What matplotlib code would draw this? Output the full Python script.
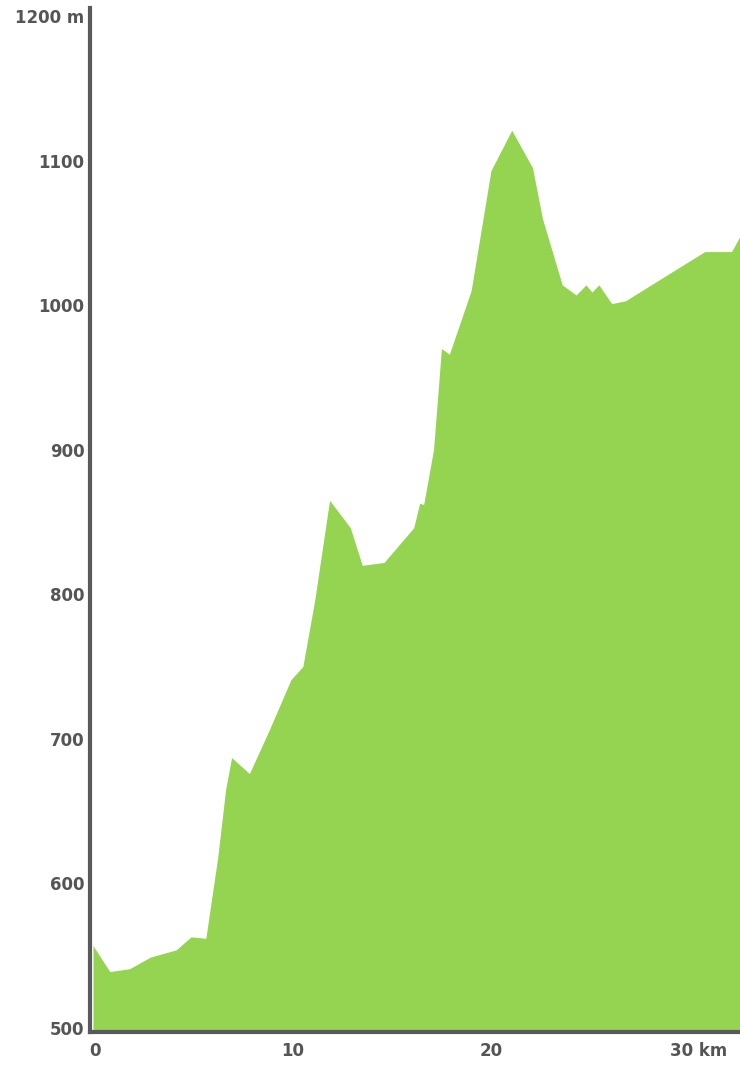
import matplotlib.pyplot as plt
import matplotlib.transforms as mtransforms

# elevation profile (km, m)
dist = [-0.1, 0.75, 1.75, 2.8, 4.1, 4.85, 5.6, 6.2, 6.6, 6.9, 7.8, 8.8, 9.9, 10.5,
        11.1, 11.85, 12.9, 13.5, 14.6, 16.1, 16.4, 16.6, 17.1, 17.5, 17.9, 19.0,
        20.0, 21.05, 22.1, 22.6, 23.6, 24.3, 24.8, 25.1, 25.45, 26.1, 26.8,
        29.5, 30.8, 32.15, 32.6]
elev = [557, 539, 541, 549, 554, 563, 562, 618, 665, 687, 676, 706, 741, 750,
        796, 865, 846, 820, 822, 846, 863, 862, 900, 970, 966, 1010,
        1093, 1121, 1095, 1060, 1014, 1007, 1014, 1009, 1014, 1001, 1003,
        1026, 1037, 1037, 1048]

xticks = [0, 10, 20, 30]
xlabels = ['0', '10', '20', '30 km']
yticks = [500, 600, 700, 800, 900, 1000, 1100, 1200]
ylabels = ['500', '600', '700', '800', '900', '1000', '1100', '1200 m']

fig = plt.figure(figsize=(7.4, 10.89), dpi=100)
ax = fig.add_axes([90/740, 1 - 1032/1089, 650/740, (1032 - 8)/1089])

ax.fill_between(dist, elev, 480, color='#95d450', linewidth=0)
ax.set_xlim(-0.25, 32.58)
ax.set_ylim(497.2, 1205.5)

for s in ['top', 'right']:
    ax.spines[s].set_visible(False)
for s in ['left', 'bottom']:
    ax.spines[s].set_color('#5a5a5a')
    ax.spines[s].set_linewidth(3)
    ax.spines[s].set_zorder(5)

ax.set_xticks(xticks)
ax.set_xticklabels(xlabels)
ax.set_yticks(yticks)
ax.set_yticklabels(ylabels)
ax.tick_params(length=0, labelsize=12, labelcolor='#555555')
ax.tick_params(axis='x', pad=7)
ax.tick_params(axis='y', pad=4)
for lab in ax.get_xticklabels() + ax.get_yticklabels():
    lab.set_fontweight('bold')

# "30 km": keep the number on the tick
last = ax.get_xticklabels()[-1]
last.set_horizontalalignment('left')
last.set_transform(last.get_transform() + mtransforms.ScaledTranslation(-0.19, 0, fig.dpi_scale_trans))

plt.savefig('out.png', dpi=100)
